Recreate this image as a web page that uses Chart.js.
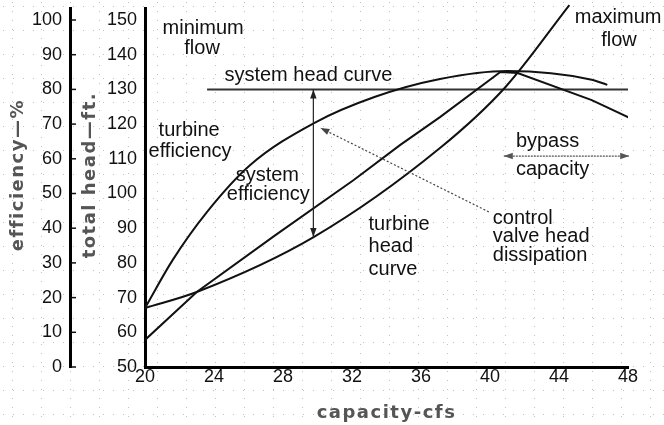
<!DOCTYPE html>
<html>
<head>
<meta charset="utf-8">
<script src="https://cdn.jsdelivr.net/npm/chart.js@4.4.0/dist/chart.umd.min.js"></script>
<style>
  body { margin: 0; background: #fff; }
  canvas { display: block; }
</style>
</head>
<body>
<canvas id="flowChart" width="664" height="425"></canvas>
<script>
// tick labels
const capacityTicks = [20, 24, 28, 32, 36, 40, 44, 48];
const headTicks = [50, 60, 70, 80, 90, 100, 110, 120, 130, 140, 150];
const efficiencyTicks = [0, 10, 20, 30, 40, 50, 60, 70, 80, 90, 100];

// curves (capacity in cfs, efficiency in %, head in ft)
const turbineEffCfs = [20, 21.6, 23.6, 26.1, 29.8, 33.3, 37.1, 41.0, 45.9, 46.8];
const turbineEff = [17.0, 30.8, 44.7, 58.2, 70.3, 77.8, 83.0, 85.3, 82.8, 81.3];

const systemEffCfs = [20, 23.0, 27.5, 32.1, 34.8, 37.1, 40.6, 41.6, 45.9, 48.1];
const systemEff = [7.8, 21.6, 37.8, 53.9, 64.0, 72.0, 85.0, 84.7, 76.9, 71.8];

const turbineHeadCfs = [20, 23.0, 29.8, 37.1, 40.9, 44.6];
const turbineHead = [67.0, 71.6, 87.5, 113.1, 130.7, 154.3];

const systemHeadCfs = [23.6, 48];
const systemHead = [130, 130];

// annotations, placed in data units (cfs, ft of head)
const notes = [
  { text: 'minimum', x: 23.37, y: 147.7, align: 'center' },
  { text: 'flow', x: 23.31, y: 141.9, align: 'center' },
  { text: 'system head curve', x: 29.47, y: 134.1, align: 'center' },
  { text: 'turbine', x: 22.56, y: 118.3, align: 'center' },
  { text: 'efficiency', x: 22.61, y: 112.0, align: 'center' },
  { text: 'system', x: 27.09, y: 105.3, align: 'center' },
  { text: 'efficiency', x: 27.15, y: 99.6, align: 'center' },
  { text: 'turbine', x: 32.96, y: 91.2, align: 'left' },
  { text: 'head', x: 32.96, y: 84.6, align: 'left' },
  { text: 'curve', x: 32.96, y: 78.0, align: 'left' },
  { text: 'maximum', x: 47.43, y: 150.6, align: 'center' },
  { text: 'flow', x: 47.48, y: 144.2, align: 'center' },
  { text: 'bypass', x: 41.5, y: 115.1, align: 'left' },
  { text: 'capacity', x: 41.5, y: 106.8, align: 'left' },
  { text: 'control', x: 40.16, y: 92.9, align: 'left' },
  { text: 'valve head', x: 40.16, y: 87.5, align: 'left' },
  { text: 'dissipation', x: 40.16, y: 82.0, align: 'left' }
];

const arrows = [
  { from: [29.76, 130], to: [29.76, 87.5], both: true, color: '#222', dash: [] },
  { from: [39.93, 94.7], to: [30.17, 118.9], both: false, color: '#444', dash: [2, 2] },
  { from: [40.8, 110.8], to: [48.07, 110.8], both: true, color: '#555', dash: [2, 1] }
];

const pts = (xs, ys) => xs.map((x, i) => ({ x: x, y: ys[i] }));
const tickFont = { family: '"Liberation Sans", Arial, sans-serif', size: 18 };

function arrowHead(ctx, x0, y0, x1, y1) {
  const a = Math.atan2(y1 - y0, x1 - x0);
  const len = 9, half = 3.2;
  ctx.beginPath();
  ctx.moveTo(x1, y1);
  ctx.lineTo(x1 - len * Math.cos(a) + half * Math.sin(a), y1 - len * Math.sin(a) - half * Math.cos(a));
  ctx.lineTo(x1 - len * Math.cos(a) - half * Math.sin(a), y1 - len * Math.sin(a) + half * Math.cos(a));
  ctx.closePath();
  ctx.fill();
}

const paperPlugin = {
  id: 'paper',
  beforeDraw(chart) {
    const ctx = chart.ctx;
    ctx.save();
    ctx.fillStyle = '#fff';
    ctx.fillRect(0, 0, chart.width, chart.height);
    // faint speckled grid like the scanned page
    ctx.fillStyle = '#c2c2c2';
    for (let y = 6; y < chart.height; y += 24) {
      for (let x = 3; x < chart.width; x += 10) ctx.fillRect(x, y, 1, 1);
    }
    for (let x = 12; x < chart.width; x += 29) {
      for (let y = 2; y < chart.height; y += 9) ctx.fillRect(x, y, 1, 1);
    }
    ctx.restore();
  },
  afterDatasetsDraw(chart) {
    const ctx = chart.ctx;
    const xs = chart.scales.x, yh = chart.scales.yHead, ye = chart.scales.yEff;
    ctx.save();

    // small ticks right of the efficiency axis
    ctx.strokeStyle = '#111';
    ctx.lineWidth = 1.5;
    efficiencyTicks.forEach(v => {
      const y = ye.getPixelForValue(v);
      ctx.beginPath();
      ctx.moveTo(ye.right + 1, y);
      ctx.lineTo(ye.right + 6, y);
      ctx.stroke();
    });

    // arrows
    arrows.forEach(a => {
      const x0 = xs.getPixelForValue(a.from[0]), y0 = yh.getPixelForValue(a.from[1]);
      const x1 = xs.getPixelForValue(a.to[0]), y1 = yh.getPixelForValue(a.to[1]);
      ctx.strokeStyle = a.color;
      ctx.fillStyle = a.color;
      ctx.lineWidth = 1.2;
      ctx.setLineDash(a.dash);
      ctx.beginPath();
      ctx.moveTo(x0, y0);
      ctx.lineTo(x1, y1);
      ctx.stroke();
      ctx.setLineDash([]);
      arrowHead(ctx, x0, y0, x1, y1);
      if (a.both) arrowHead(ctx, x1, y1, x0, y0);
    });

    // labels
    ctx.fillStyle = '#111';
    ctx.font = '20px "Liberation Sans", Arial, sans-serif';
    ctx.textBaseline = 'middle';
    notes.forEach(n => {
      ctx.textAlign = n.align;
      ctx.fillText(n.text, xs.getPixelForValue(n.x), yh.getPixelForValue(n.y));
    });

    // axis titles, bold and grey like the halftone print
    ctx.fillStyle = '#555';
    ctx.font = 'bold 18px "DejaVu Sans", sans-serif';
    ctx.textAlign = 'center';
    if ('letterSpacing' in ctx) ctx.letterSpacing = '1.5px';
    ctx.fillText('capacity-cfs', (xs.left + xs.right) / 2, xs.bottom - 12);
    const midY = yh.getPixelForValue(105.3);
    ctx.translate(ye.left + 18, midY);
    ctx.rotate(-Math.PI / 2);
    ctx.fillText('efficiency—%', 0, 0);
    ctx.rotate(Math.PI / 2);
    ctx.translate(yh.left - ye.left + 2, 0);
    ctx.rotate(-Math.PI / 2);
    ctx.fillText('total head—ft.', 0, 0);
    ctx.restore();
  }
};

const lineStyle = { borderColor: '#111', borderWidth: 2, pointRadius: 0, cubicInterpolationMode: 'monotone', fill: false };

// keep the plot area where the reference has it; the top tick sits below the axis end
const fixY = w => s => { s.width = w; s.paddingTop = 0; s.paddingBottom = 0; };

new Chart(document.getElementById('flowChart'), {
  type: 'line',
  data: {
    datasets: [
      Object.assign({ label: 'turbine efficiency', data: pts(turbineEffCfs, turbineEff), yAxisID: 'yEff' }, lineStyle),
      Object.assign({ label: 'system efficiency', data: pts(systemEffCfs, systemEff), yAxisID: 'yEff' }, lineStyle,
        { cubicInterpolationMode: 'default', tension: 0 }),
      Object.assign({ label: 'turbine head curve', data: pts(turbineHeadCfs, turbineHead), yAxisID: 'yHead', clip: 6 }, lineStyle),
      Object.assign({ label: 'system head curve', data: pts(systemHeadCfs, systemHead), yAxisID: 'yHead' }, lineStyle, { borderColor: '#333' })
    ]
  },
  options: {
    responsive: false,
    animation: false,
    layout: { padding: { left: 0, right: 36, top: 8, bottom: 0 } },
    plugins: { legend: { display: false }, tooltip: { enabled: false } },
    scales: {
      x: {
        type: 'linear',
        min: 20,
        max: 48,
        afterBuildTicks: s => { s.ticks = capacityTicks.map(v => ({ value: v })); },
        afterFit: s => { s.height = 58; },
        grid: { display: false, drawTicks: false },
        border: { display: true, color: '#000', width: 3 },
        ticks: { color: '#111', font: Object.assign({ lineHeight: 1 }, tickFont), padding: 1, maxRotation: 0 }
      },
      yEff: {
        position: 'left',
        weight: 2,
        min: 0,
        max: 103.46,
        afterBuildTicks: s => { s.ticks = efficiencyTicks.map(v => ({ value: v })); },
        afterFit: fixY(70),
        grid: { display: false, drawTicks: false },
        border: { display: true, color: '#000', width: 3 },
        ticks: { color: '#111', font: tickFont, padding: 8 }
      },
      yHead: {
        position: 'left',
        weight: 1,
        min: 50,
        max: 153.46,
        afterBuildTicks: s => { s.ticks = headTicks.map(v => ({ value: v })); },
        afterFit: fixY(75),
        grid: { display: false, drawTicks: false },
        border: { display: true, color: '#000', width: 3 },
        ticks: { color: '#111', font: tickFont, padding: 8 }
      }
    }
  },
  plugins: [paperPlugin]
});
</script>
</body>
</html>
